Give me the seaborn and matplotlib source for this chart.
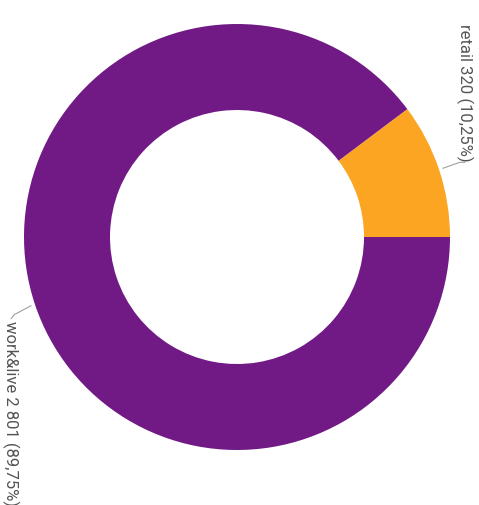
import numpy as np
import matplotlib
matplotlib.use("Agg")
import matplotlib.pyplot as plt
import seaborn as sns

# data
labels = ["retail", "work&live"]
values = [320, 2801]
value_text = ["320", "2 801"]
pct_text = ["10,25%", "89,75%"]
colors = ["#FCA522", "#711A86"]

sns.set_theme(style="white")
plt.rcParams["font.family"] = ["Roboto", "DejaVu Sans"]

W, H = 479, 506
fig = plt.figure(figsize=(W / 100, H / 100), dpi=100)
ax = fig.add_axes([0, 0, 1, 1])

cx, cy = 237, H - 238
r_out, r_in = 213, 127

wedges, _ = ax.pie(values, colors=colors, startangle=0, counterclock=True,
                   radius=r_out, center=(cx, cy), frame=True,
                   wedgeprops=dict(width=r_out - r_in, linewidth=0))
ax.set_xlim(0, W)
ax.set_ylim(0, H)
ax.set_aspect("equal")
ax.axis("off")

# labels with leader lines
line_col = "#a0a0a0"
txt_col = "#555555"
for i, w in enumerate(wedges):
    mid = np.deg2rad((w.theta1 + w.theta2) / 2)
    x0 = cx + (r_out + 4) * np.cos(mid)
    y0 = cy + (r_out + 4) * np.sin(mid)
    label = f"{labels[i]} {value_text[i]} ({pct_text[i]})"
    if np.cos(mid) > 0:
        x1, y1 = x0 + 17, y0 + 6
        x2 = x1 + 5
        ax.plot([x0, x1, x2], [y0, y1, y1], color=line_col, lw=0.8)
        ax.text(x2, y1 + 2, label, rotation=-90, ha="center", va="bottom",
                fontsize=12, color=txt_col)
    else:
        x1, y1 = x0 - 17, y0 - 9
        ax.plot([x0, x1, x1 - 3], [y0, y1, y1 - 4], color=line_col, lw=0.8)
        ax.text(x1 - 4, y1 - 5, label, rotation=-90, ha="center", va="top",
                fontsize=12, color=txt_col)

fig.savefig("out.png", dpi=100)
